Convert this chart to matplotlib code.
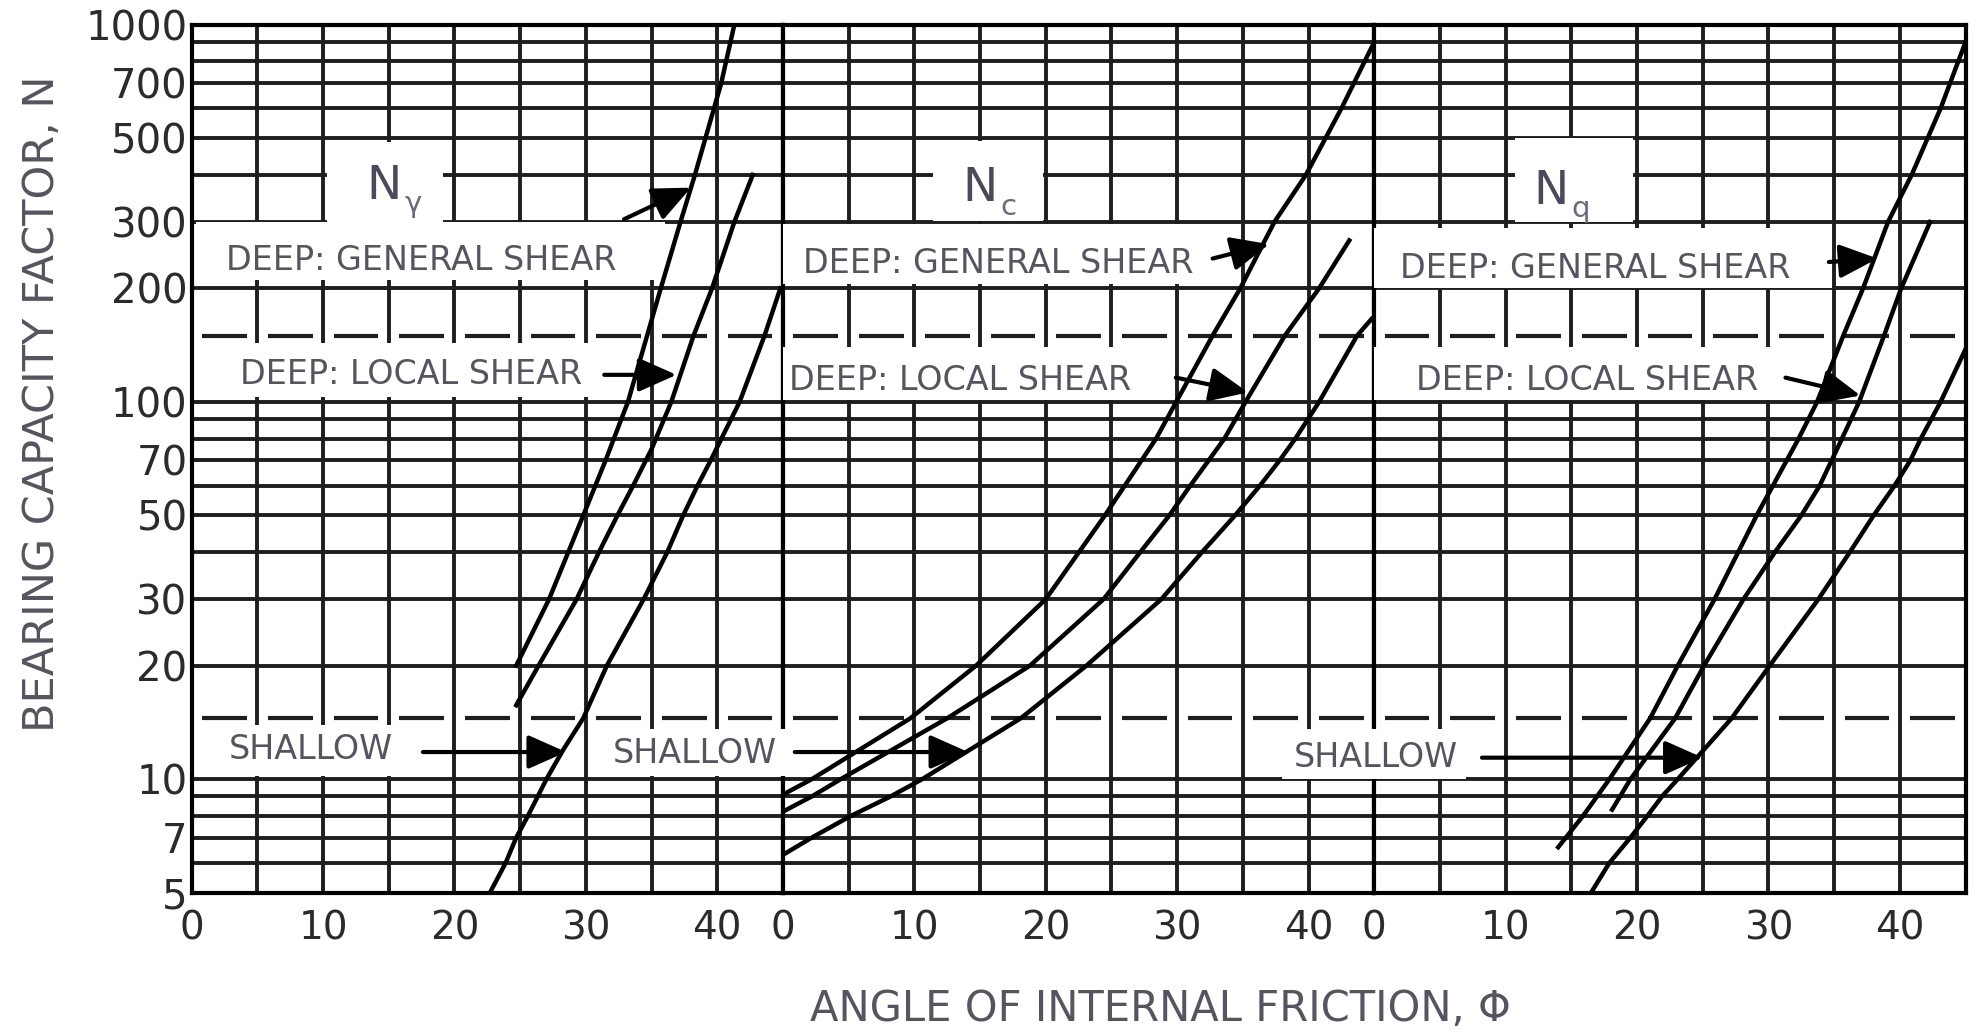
import matplotlib.pyplot as plt
from matplotlib.patches import Rectangle
from matplotlib.ticker import NullFormatter, NullLocator
import numpy as np

plt.rcParams['font.family'] = ['DejaVu Sans']

# bearing capacity factor curves: angle of friction (deg) -> N
ny_general_phi = [24.7, 27.2, 29.8, 31.5, 33.2, 35.7, 37.2, 38.3, 40.3, 41.3]
ny_general_n = [20, 30, 50, 70, 100, 200, 300, 400, 700, 1000]
ny_local_phi = [24.7, 26.4, 29.3, 31.0, 32.4, 33.6, 35.0, 36.5, 38.2, 39.6, 41.3, 42.7]
ny_local_n = [15.7, 20, 30, 40, 50, 60, 75, 100, 150, 200, 300, 400]
ny_shallow_phi = [22.7, 23.9, 24.7, 25.6, 27.0, 28.3, 29.8, 31.6, 34.4, 36.2, 37.4, 38.5, 39.5, 41.7, 43.6, 44.8]
ny_shallow_n = [5, 6, 7, 8, 10, 12, 14.5, 20, 30, 40, 50, 60, 70, 100, 150, 200]

nc_general_phi = [0, 2.2, 9.7, 14.7, 20, 24.5, 28.4, 32.7, 34.8, 37.4, 39.8, 42.5, 45]
nc_general_n = [9.1, 10, 14.5, 20, 30, 50, 80, 150, 200, 300, 400, 600, 900]
nc_local_phi = [0, 2.2, 4.4, 12.5, 18.8, 24.4, 27.2, 29.4, 31.0, 32.4, 33.6, 35.2, 38.2, 40.8, 43.1]
nc_local_n = [8.2, 9, 10, 14.5, 20, 30, 40, 50, 60, 70, 80, 100, 150, 200, 268]
nc_shallow_phi = [0, 2.2, 5.2, 8.2, 10.6, 18.1, 23.1, 28.8, 31.9, 34.4, 36.3, 37.8, 39.0, 40.8, 43.7, 44.8]
nc_shallow_n = [6.3, 7, 8, 9, 10, 14.5, 20, 30, 40, 50, 60, 70, 80, 100, 150, 166]

nq_general_phi = [14.0, 15.9, 17.9, 21.0, 23.1, 25.9, 29.1, 32.3, 33.7, 35.7, 37.2, 39.1, 40.9, 43.1, 45]
nq_general_n = [6.6, 8, 10, 14.5, 20, 30, 50, 80, 100, 150, 200, 300, 400, 600, 900]
nq_local_phi = [18.1, 19.5, 22.9, 25.1, 28.1, 30.5, 32.5, 33.9, 35.6, 36.9, 38.8, 40.1, 42.3]
nq_local_n = [8.3, 10, 14.5, 20, 30, 40, 50, 60, 80, 100, 150, 200, 300]
nq_shallow_phi = [16.5, 17.9, 19.5, 20.8, 21.9, 23.1, 27.2, 30.1, 33.8, 36.2, 38.0, 39.6, 40.8, 41.6, 43.1, 45]
nq_shallow_n = [5, 6, 7, 8, 9, 10, 14.5, 20, 30, 40, 50, 60, 70, 80, 100, 138]

y_ticks = [5, 7, 10, 20, 30, 50, 70, 100, 200, 300, 500, 700, 1000]
x_ticks = [0, 10, 20, 30, 40]
dashed_levels = [150, 14.5]

GRID = '#1e1e1e'
TEXT = '#55555f'

fig = plt.figure(figsize=(19.78, 10.32), dpi=100)
axes = fig.subplots(1, 3, sharey=True, gridspec_kw=dict(wspace=0))
fig.subplots_adjust(left=0.0969, right=0.9937, bottom=0.135, top=0.976)

h_levels = [m * 10 ** e for e in range(0, 3) for m in range(1, 10) if m * 10 ** e >= 5] + [1000]


def white_box(ax, x0, x1, y0, y1):
    ax.add_patch(Rectangle((x0, y0), x1 - x0, y1 - y0, facecolor='white',
                           edgecolor='none', zorder=2.6, clip_on=False))


def label(ax, x, y, s, size=24):
    ax.text(x, y, s, ha='center', va='center', fontsize=size, color=TEXT,
            zorder=4, clip_on=False)


def arrow(ax, tail, head):
    ax.annotate('', xy=head, xytext=tail, zorder=4, annotation_clip=False,
                arrowprops=dict(arrowstyle='-|>,head_length=0.9,head_width=0.4',
                                color='black', lw=3.0, shrinkA=0, shrinkB=0,
                                mutation_scale=26))


def symbol(ax, x, y, sub):
    ax.text(x, y, 'N', ha='right', va='center', fontsize=34, color='#4a4a5a', zorder=4)
    ax.annotate(sub, xy=(x, y), xytext=(2, -13), textcoords='offset points',
                ha='left', va='center', fontsize=21, color='#6a6a7a', zorder=4,
                annotation_clip=False)


curves = [
    [(ny_general_phi, ny_general_n), (ny_local_phi, ny_local_n), (ny_shallow_phi, ny_shallow_n)],
    [(nc_general_phi, nc_general_n), (nc_local_phi, nc_local_n), (nc_shallow_phi, nc_shallow_n)],
    [(nq_general_phi, nq_general_n), (nq_local_phi, nq_local_n), (nq_shallow_phi, nq_shallow_n)],
]

for ax, group in zip(axes, curves):
    ax.set_yscale('log')
    ax.set_ylim(5, 1000)
    ax.set_xlim(0, 45)
    for v in h_levels:
        ax.axhline(v, color=GRID, lw=2.8, zorder=1)
    for xv in range(0, 46, 5):
        ax.axvline(xv, color=GRID, lw=2.8, zorder=1)
    starts = np.arange(0, 45, 5) + 0.8
    for lvl in dashed_levels:
        ax.hlines(np.full(len(starts), lvl), starts, starts + 3.4,
                  color=GRID, lw=3.0, zorder=1.5)
    for phi, n in group:
        ax.plot(phi, n, color='black', lw=3.2, zorder=3)
    ax.set_xticks(x_ticks)
    ax.tick_params(axis='x', length=0, pad=12, labelsize=28, labelcolor='#2b2b2b')
    ax.tick_params(axis='y', which='both', length=0)
    for s in ax.spines.values():
        s.set_linewidth(3.0)
        s.set_color('black')

ax1, ax2, ax3 = axes
ax1.set_yticks(y_ticks)
ax1.set_yticklabels([str(v) for v in y_ticks])
ax1.yaxis.set_minor_locator(NullLocator())
ax1.yaxis.set_minor_formatter(NullFormatter())
ax1.tick_params(axis='y', pad=3, labelsize=29, labelcolor='#2b2b2b')

# N-gamma panel
white_box(ax1, 10.3, 19.1, 300, 490)
symbol(ax1, 16.0, 373, 'γ')
white_box(ax1, 0.3, 36.0, 210, 300)
label(ax1, 17.5, 237, 'DEEP: GENERAL SHEAR')
arrow(ax1, (32.9, 305), (38.0, 370))
white_box(ax1, 0.3, 31.0, 103, 143)
label(ax1, 16.7, 118, 'DEEP: LOCAL SHEAR')
arrow(ax1, (31.4, 118), (36.9, 118))
white_box(ax1, 0.3, 19.0, 10.2, 13.9)
label(ax1, 9.1, 12.0, 'SHALLOW')
arrow(ax1, (17.6, 11.8), (28.5, 11.8))

# N-c panel
white_box(ax2, 11.4, 19.8, 302, 491)
symbol(ax2, 16.3, 368, 'c')
white_box(ax2, 0.0, 34.5, 205, 296)
label(ax2, 16.4, 233, 'DEEP: GENERAL SHEAR')
arrow(ax2, (32.7, 240), (37.0, 262))
white_box(ax2, 0.0, 29.5, 101, 140)
label(ax2, 13.5, 114, 'DEEP: LOCAL SHEAR')
arrow(ax2, (29.9, 116), (35.4, 106))
white_box(ax2, -14.0, 1.0, 10.2, 13.6)
label(ax2, -6.7, 11.7, 'SHALLOW')
arrow(ax2, (0.9, 11.8), (14.1, 11.8))

# N-q panel
white_box(ax3, 10.7, 19.7, 300, 500)
symbol(ax3, 14.8, 362, 'q')
white_box(ax3, 0.0, 34.8, 200, 290)
label(ax3, 16.8, 226, 'DEEP: GENERAL SHEAR')
arrow(ax3, (34.6, 235), (38.3, 240))
white_box(ax3, 0.0, 31.0, 101, 140)
label(ax3, 16.2, 114, 'DEEP: LOCAL SHEAR')
arrow(ax3, (31.3, 116), (37.0, 104))
white_box(ax3, -7.0, 7.0, 10.0, 13.6)
label(ax3, 0.15, 11.4, 'SHALLOW')
arrow(ax3, (8.2, 11.4), (25.0, 11.4))

fig.text(0.021, 0.609, 'BEARING CAPACITY FACTOR, N', rotation=90, ha='center',
         va='center', fontsize=31, color=TEXT)
fig.text(0.5866, 0.0223, 'ANGLE OF INTERNAL FRICTION, Φ', ha='center',
         va='center', fontsize=30, color=TEXT)

fig.savefig('out.png', dpi=100)
